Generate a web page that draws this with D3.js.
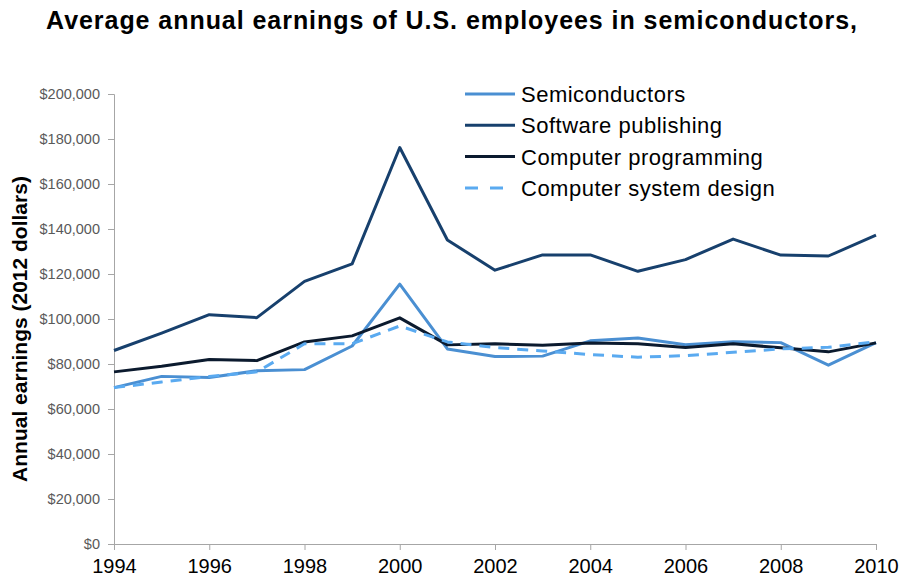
<!DOCTYPE html>
<html>
<head>
<meta charset="utf-8">
<script src="https://cdn.jsdelivr.net/npm/d3@7"></script>
<style>
  body { margin: 0; background: #fff; }
  text { font-family: 'Liberation Sans', Arial, sans-serif; }
</style>
</head>
<body>
<svg id="svg" width="901" height="581"></svg>
<script>
const years = [1994, 1995, 1996, 1997, 1998, 1999, 2000, 2001, 2002, 2003, 2004, 2005, 2006, 2007, 2008, 2009, 2010]
const semiconductors = [69500, 74500, 74000, 77000, 77500, 88000, 115500, 86700, 83300, 83500, 90300, 91600, 88600, 89900, 89500, 79500, 89500]
const softwarePublishing = [86000, 93700, 101900, 100600, 116700, 124500, 176200, 135100, 121700, 128500, 128500, 121200, 126400, 135500, 128400, 128000, 137300]
const computerProgramming = [76500, 79000, 82000, 81500, 89800, 92500, 100500, 88500, 89000, 88300, 89300, 89000, 87300, 89000, 87200, 85400, 89400]
const systemDesign = [69500, 72000, 74500, 76500, 89000, 89000, 96900, 89800, 87300, 85800, 84200, 83000, 83700, 85200, 86700, 87400, 89900]
const seriesNames = ['Semiconductors', 'Software publishing', 'Computer programming', 'Computer system design']
const yTicks = [0, 20000, 40000, 60000, 80000, 100000, 120000, 140000, 160000, 180000, 200000]
const xTicks = [1994, 1996, 1998, 2000, 2002, 2004, 2006, 2008, 2010]

const series = [
  { name: seriesNames[0], values: semiconductors, colour: '#4a8fd2', dash: null },
  { name: seriesNames[1], values: softwarePublishing, colour: '#17406d', dash: null },
  { name: seriesNames[2], values: computerProgramming, colour: '#0b1a2e', dash: null },
  { name: seriesNames[3], values: systemDesign, colour: '#5aaaf0', dash: '11,8' }
]

const svg = d3.select('#svg')

const xScale = d3.scaleLinear()
  .domain([1994, 2010])
  .range([114, 876])

const yScale = d3.scaleLinear()
  .domain([0, 200000])
  .range([544, 94])

// title
svg.append('text')
  .text('Average annual earnings of U.S. employees in semiconductors,')
  .attr('x', 452)
  .attr('y', 29)
  .attr('text-anchor', 'middle')
  .style('font-weight', 'bold')
  .style('font-size', '25px')
  .style('letter-spacing', '0.95px')

// y axis
const yAxis = svg.append('g')
  .attr('transform', 'translate(114,0)')
  .call(d3.axisLeft(yScale).tickValues(yTicks).tickSize(6).tickPadding(8)
    .tickFormat(d => '$' + d3.format(',')(d)))
yAxis.select('.domain').attr('stroke', '#a6a6a6')
yAxis.selectAll('.tick line').attr('stroke', '#a6a6a6')
yAxis.selectAll('.tick text')
  .attr('fill', '#595959')
  .style('font-size', '14.5px')
  .style('font-family', "'Liberation Sans', Arial, sans-serif")

// x axis
const xAxis = svg.append('g')
  .attr('transform', 'translate(0,544)')
  .call(d3.axisBottom(xScale).tickValues(xTicks).tickSize(6).tickPadding(9)
    .tickFormat(d3.format('d')))
xAxis.select('.domain').attr('stroke', '#a6a6a6')
xAxis.selectAll('.tick line').attr('stroke', '#a6a6a6')
xAxis.selectAll('.tick text')
  .attr('fill', '#000')
  .style('font-size', '20px')
  .style('font-family', "'Liberation Sans', Arial, sans-serif")

// y axis title
svg.append('text')
  .text('Annual earnings (2012 dollars)')
  .attr('transform', 'translate(27,329) rotate(-90)')
  .attr('text-anchor', 'middle')
  .style('font-weight', 'bold')
  .style('font-size', '21px')

const line = d3.line()
  .x((d, i) => xScale(years[i]))
  .y(d => yScale(d))

svg.selectAll('path.series')
  .data(series)
  .enter()
  .append('path')
  .attr('class', 'series')
  .attr('d', d => line(d.values))
  .attr('fill', 'none')
  .attr('stroke', d => d.colour)
  .attr('stroke-width', 3)
  .attr('stroke-linejoin', 'round')
  .attr('stroke-dasharray', d => d.dash)

// legend
const legend = svg.selectAll('g.legend')
  .data(series)
  .enter()
  .append('g')
  .attr('class', 'legend')
  .attr('transform', (d, i) => `translate(465,${94 + i * 31.3})`)

legend.append('line')
  .attr('x1', 0)
  .attr('x2', 50)
  .attr('stroke', d => d.colour)
  .attr('stroke-width', 3)
  .attr('stroke-dasharray', d => d.dash ? '13,12' : null)

legend.append('text')
  .text(d => d.name)
  .attr('x', 56)
  .attr('y', 8)
  .style('font-size', '22px')
  .style('letter-spacing', '0.5px')
</script>
</body>
</html>
